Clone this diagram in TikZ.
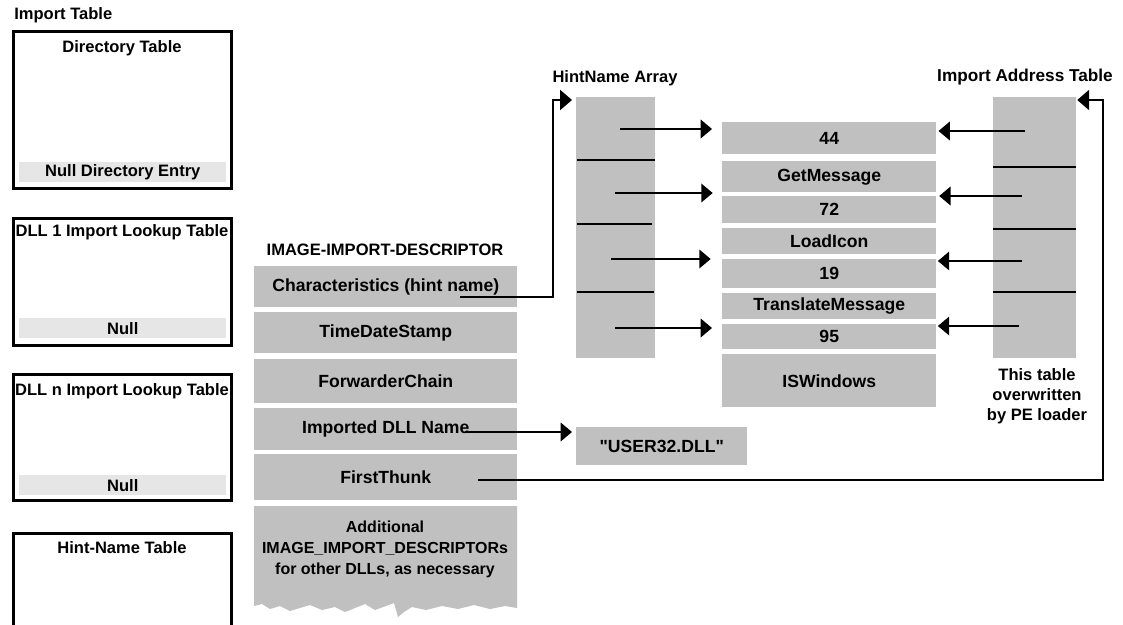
\documentclass[tikz,border=0pt]{standalone}
\usepackage{fontspec}
\setmainfont{Liberation Sans}
\newfontfamily\plainsans{Liberation Sans}[Ligatures=TeXOff]
\usetikzlibrary{arrows.meta}
\definecolor{rowgray}{HTML}{C0C0C0}
\definecolor{nullgray}{HTML}{E6E6E6}
\tikzset{
    tabtitle/.style={font=\bfseries\fontsize{12.4}{15}\selectfont},
    cell/.style={fill=rowgray, anchor=north west, inner sep=0pt,
        font=\bfseries\fontsize{13.2}{15}\selectfont},
    descrow/.style={cell, minimum width=197.25pt, minimum height=#1},
    namerow/.style={cell, minimum width=160.5pt, minimum height=#1},
    nullrow/.style={tabtitle, fill=nullgray, anchor=north west, inner sep=0pt,
        minimum width=155.25pt, minimum height=15pt},
    frame/.style={line width=2.25pt},
    slot/.style={line width=1.1pt},
    ptr/.style={line width=1.1pt, -{Triangle[length=8.5pt,width=14pt]}},
    bigptr/.style={line width=1.9pt, -{Triangle[length=9pt,width=15pt]}}
}
\begin{document}
\begin{tikzpicture}[x=0.75pt,y=-0.75pt]
    \useasboundingbox (0,0) rectangle (1123,624);

    % import table, left side
    \node[tabtitle, anchor=west, inner sep=0pt] (imptab) at (14,15) {Import Table};
    \draw[frame] (13,32) rectangle (231,188);
    \node[tabtitle] (dirtab) at (122,48) {Directory Table};
    \node[nullrow] (dirnull) at (19,162) {Null Directory Entry};
    \draw[frame] (13,218) rectangle (231,345);
    \node[tabtitle] (look1) at (122,232) {DLL 1 Import Lookup Table};
    \node[nullrow] (null1) at (19,318) {Null};
    \draw[frame] (13,374) rectangle (231,500);
    \node[tabtitle] (lookn) at (122,391) {DLL n Import Lookup Table};
    \node[nullrow] (nulln) at (19,475) {Null};
    \draw[frame] (13,640) -- (13,533) -- (231,533) -- (231,640);
    \node[tabtitle] (hinttab) at (122,548) {Hint-Name Table};

    % IMAGE_IMPORT_DESCRIPTOR
    \node[tabtitle] (desclbl) at (385,250) {IMAGE-IMPORT-DESCRIPTOR};
    \node[descrow=30.75pt] (chars) at (254,266) {Characteristics (hint name)};
    \node[descrow=30.75pt] (tds) at (254,312) {TimeDateStamp};
    \node[descrow=33pt] (fwd) at (254,359) {ForwarderChain};
    \node[descrow=31.5pt] (dllname) at (254,408) {Imported DLL Name};
    \node[descrow=34.5pt] (thunk) at (254,454) {FirstThunk};
    \fill[rowgray] (254,506) -- (517,506) -- (517,608) -- (505,606) -- (490,609)
        -- (474,605) -- (458,609) -- (442,606) -- (426,610) -- (412,607)
        -- (404,612) -- (398,617) -- (394,603) -- (386,606) -- (375,610)
        -- (365,604) -- (355,608) -- (345,612) -- (335,607) -- (322,610)
        -- (310,605) -- (300,608) -- (290,611) -- (280,606) -- (270,609)
        -- (262,604) -- (254,606) -- cycle;
    \node[tabtitle, font=\bfseries\fontsize{12}{15.75}\selectfont, align=center]
        (more) at (385,549) {Additional\\IMAGE\_IMPORT\_DESCRIPTORs\\for other DLLs, as necessary};

    % hint/name array
    \node[tabtitle] (hintlbl) at (615,78) {HintName Array};
    \node[cell, minimum width=59.25pt, minimum height=195.75pt] (hint) at (576,97) {};
    \draw[slot] (577,160) -- (655,160);
    \draw[slot, line width=1.6pt] (577,224) -- (652,224);
    \draw[slot] (577,292) -- (654,292);

    % hint / name entries
    \node[namerow=24pt] (n44) at (722,122) {44};
    \node[namerow=23.25pt] (getmsg) at (722,161) {GetMessage};
    \node[namerow=20.25pt] (n72) at (722,196) {72};
    \node[namerow=19.5pt] (loadicon) at (722,228) {LoadIcon};
    \node[namerow=21.75pt] (n19) at (722,259) {19};
    \node[namerow=19.5pt] (transmsg) at (722,293) {TranslateMessage};
    \node[namerow=18.75pt] (n95) at (722,324) {95};
    \node[namerow=39.75pt] (iswin) at (722,354) {ISWindows};

    % import address table
    \node[tabtitle, font=\bfseries\fontsize{12.9}{15}\selectfont] (iatlbl) at (1025,77) {Import Address Table};
    \node[cell, minimum width=62.25pt, minimum height=195.75pt] (iat) at (993,97) {};
    \draw[slot] (993,167) -- (1076,167);
    \draw[slot] (993,229) -- (1076,229);
    \draw[slot] (993,292) -- (1076,292);
    \node[tabtitle, align=center, font=\bfseries\fontsize{12.4}{15}\selectfont]
        (iatnote) at (1037,396) {This table\\overwritten\\by PE loader};

    \node[cell, minimum width=128.25pt, minimum height=28.5pt] (user32) at (576,427)
        {\plainsans "USER32.DLL"};

    % pointers
    \coordinate (h1) at (620,129);
    \coordinate (h2) at (615,193);
    \coordinate (h3) at (611,259);
    \coordinate (h4) at (615,328);
    \draw[ptr, shorten >=7.5pt] (h1) -- (h1 -| n44.west);
    \draw[ptr, shorten >=7pt] (h2) -- (h2 -| n72.west);
    \draw[ptr, shorten >=8.5pt] (h3) -- (h3 -| n19.west);
    \draw[ptr, shorten >=7.5pt] (h4) -- (h4 -| n95.west);

    \coordinate (a1) at (1025,131);
    \coordinate (a2) at (1022,196);
    \coordinate (a3) at (1022,261);
    \coordinate (a4) at (1019,326);
    \draw[ptr, shorten >=1.5pt] (a1) -- (a1 -| n44.east);
    \draw[ptr, shorten >=2pt] (a2) -- (a2 -| n72.east);
    \draw[ptr, shorten >=1pt] (a3) -- (a3 -| n19.east);
    \draw[ptr, shorten >=1pt] (a4) -- (a4 -| n95.east);

    \coordinate (chartail) at (460,297);
    \coordinate (hintbend) at (553,100);
    \draw[bigptr, shorten >=3pt] (chartail) -| (hintbend) -- (hintbend -| hint.west);

    \coordinate (dlltail) at (465,432);
    \draw[ptr, shorten >=3pt] (dlltail) -- (dlltail -| user32.west);

    \coordinate (thunktail) at (478,480);
    \coordinate (iatbend) at (1103,100);
    \draw[bigptr, shorten >=0.5pt] (thunktail) -| (iatbend) -- (iatbend -| iat.east);
\end{tikzpicture}
\end{document}
